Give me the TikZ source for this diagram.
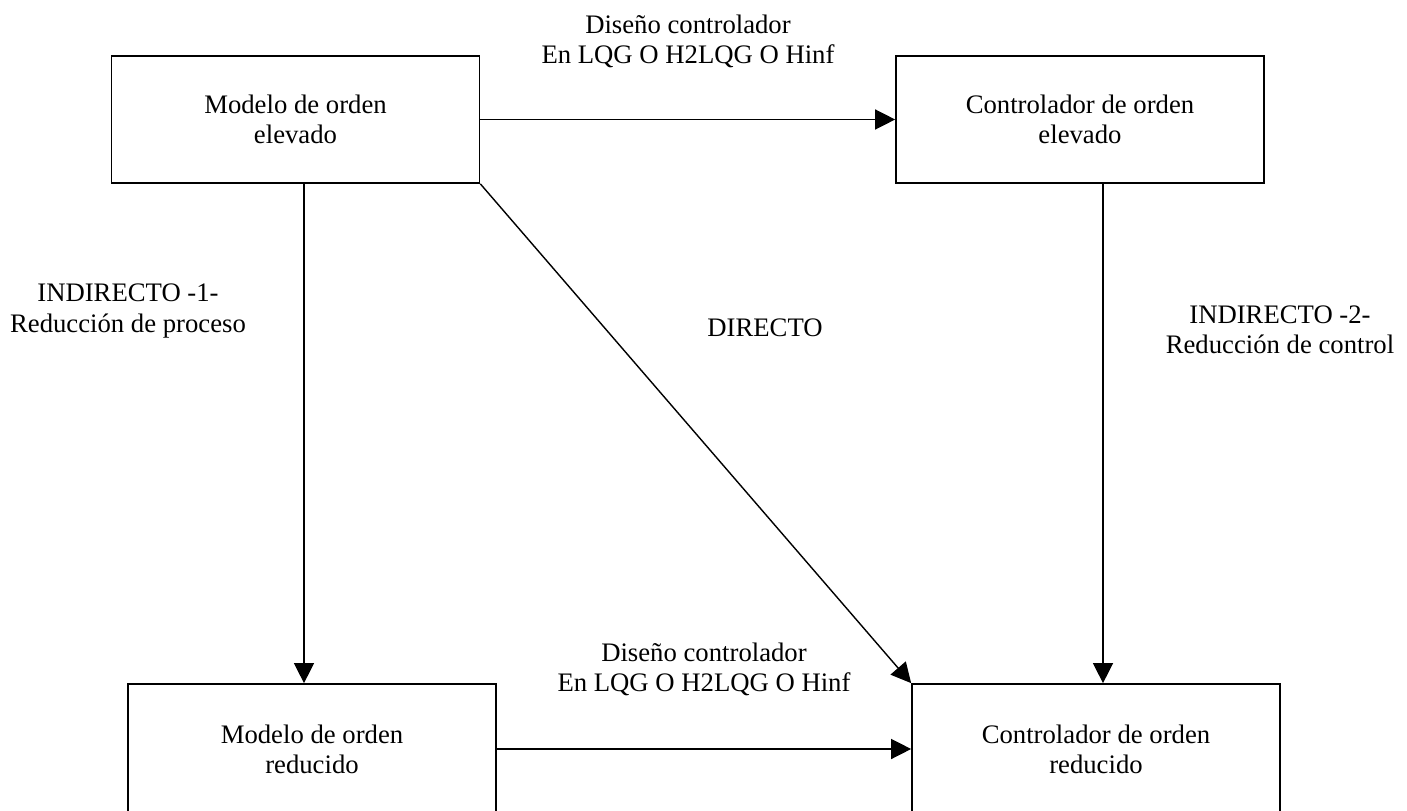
\documentclass[tikz,border=0pt]{standalone}
\usepackage{fontspec}
\setmainfont{Liberation Serif}
\usetikzlibrary{arrows.meta}
\begin{document}
\begin{tikzpicture}[x=0.02cm, y=-0.02cm,
    >={Triangle[length=0.4cm, width=0.4cm]},
    blk/.style={draw, line width=1pt, minimum width=7.36cm, minimum height=2.54cm, inner sep=0pt,
      align=center, font=\fontsize{15.2}{17.1}\selectfont},
    arr/.style={->, line width=0.8pt},
    lbl/.style={align=center, font=\fontsize{15.2}{17.1}\selectfont}]
  \useasboundingbox (0,0) rectangle (1407,811);
  \clip (0,0) rectangle (1407,811);
  % blocks
  \node[blk] (me) at (295.5,119.5) {Modelo de orden\\elevado};
  \node[blk] (ce) at (1080,119.5) {Controlador de orden\\elevado};
  \node[blk, minimum height=2.6cm] (mr) at (312,749) {Modelo de orden\\reducido};
  \node[blk, minimum height=2.6cm] (cr) at (1096,749) {Controlador de orden\\reducido};
  \coordinate (lx) at (304,0);
  \coordinate (rx) at (1103,0);
  % connectors
  \draw[arr] (me.east) -- (ce.west);
  \draw[arr] (mr.east) -- (cr.west);
  \draw[arr] (me.south -| lx) -- (mr.north -| lx);
  \draw[arr] (ce.south -| rx) -- (cr.north -| rx);
  \draw[arr] (me.south east) -- (cr.north west);
  % labels
  \node[lbl] (d1) at (688,41) {Diseño controlador\\En LQG O H2LQG O Hinf};
  \node[lbl] (d2) at (704,669) {Diseño controlador\\En LQG O H2LQG O Hinf};
  \node[lbl] (i1) at (128,311) {INDIRECTO -1-\\Reducción de proceso};
  \node[lbl] (dir) at (765,328) {DIRECTO};
  \node[lbl] (i2) at (1280,330) {INDIRECTO -2-\\Reducción de control};
\end{tikzpicture}
\end{document}
